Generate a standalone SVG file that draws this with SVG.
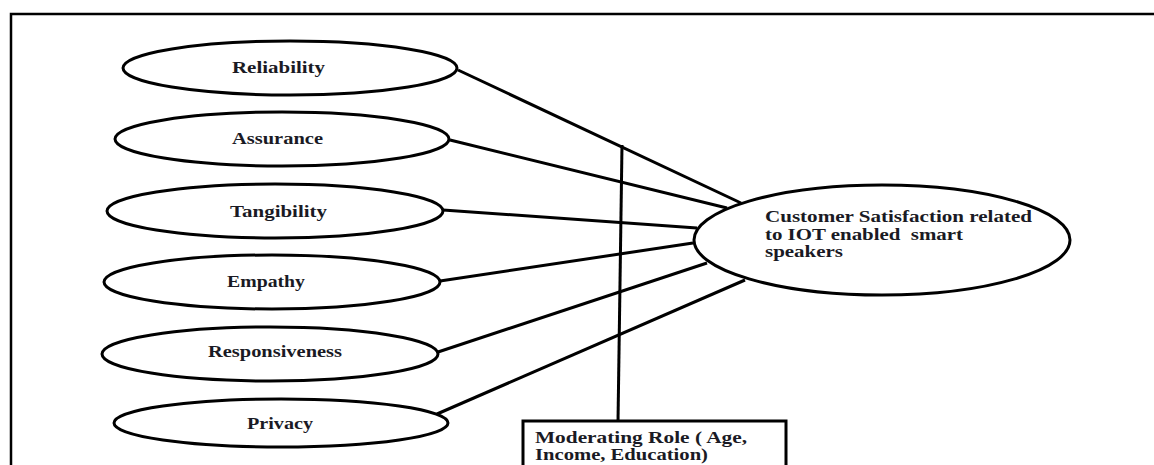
<svg xmlns="http://www.w3.org/2000/svg" width="1154" height="465" viewBox="0 0 1154 465">
<style>
.node{fill:#fff;stroke:#000;stroke-width:3}
.lbl{font-family:"Liberation Serif","Times New Roman",serif;font-weight:bold;font-size:16px;fill:#1a1a24;white-space:pre}
.big{font-size:17px}
.conn line{stroke:#000;stroke-width:3}
</style>
<rect width="1154" height="465" fill="#fff"/>
<g id="frame">
<path d="M11 465 V14 H1154" fill="none" stroke="#000" stroke-width="2.5"/>
</g>
<g class="conn" id="connectors">
<line x1="458" y1="70" x2="741" y2="203"/>
<line x1="450" y1="140" x2="727" y2="208"/>
<line x1="443" y1="210" x2="697" y2="228"/>
<line x1="440" y1="281" x2="693" y2="243"/>
<line x1="438" y1="352" x2="707" y2="263"/>
<line x1="437" y1="414" x2="745" y2="280"/>
<line x1="622" y1="145" x2="618" y2="422"/>
</g>
<g id="reliability">
<ellipse class="node" cx="290" cy="68" rx="167" ry="27"/>
<text class="lbl" x="232" y="73" textLength="93" lengthAdjust="spacingAndGlyphs">Reliability</text>
</g>
<g id="assurance">
<ellipse class="node" cx="282" cy="139" rx="167" ry="27"/>
<text class="lbl" x="232" y="144" textLength="91" lengthAdjust="spacingAndGlyphs">Assurance</text>
</g>
<g id="tangibility">
<ellipse class="node" cx="275" cy="211" rx="168" ry="27"/>
<text class="lbl" x="230" y="217" textLength="97" lengthAdjust="spacingAndGlyphs">Tangibility</text>
</g>
<g id="empathy">
<ellipse class="node" cx="272" cy="282" rx="168" ry="27"/>
<text class="lbl" x="227" y="287" textLength="78" lengthAdjust="spacingAndGlyphs">Empathy</text>
</g>
<g id="responsiveness">
<ellipse class="node" cx="270" cy="354" rx="168" ry="27"/>
<text class="lbl" x="208" y="357" textLength="134" lengthAdjust="spacingAndGlyphs">Responsiveness</text>
</g>
<g id="privacy">
<ellipse class="node" cx="281" cy="423" rx="167" ry="24"/>
<text class="lbl" x="247" y="429" textLength="66" lengthAdjust="spacingAndGlyphs">Privacy</text>
</g>
<g id="satisfaction">
<ellipse class="node" cx="882" cy="240" rx="188" ry="55"/>
<text class="lbl big" x="765" y="222" textLength="267" lengthAdjust="spacingAndGlyphs">Customer Satisfaction related</text>
<text class="lbl big" x="765" y="240" textLength="198" lengthAdjust="spacingAndGlyphs" xml:space="preserve">to IOT enabled  smart</text>
<text class="lbl big" x="765" y="257" textLength="78" lengthAdjust="spacingAndGlyphs">speakers</text>
</g>
<g id="moderating">
<rect class="node" x="523" y="421" width="263" height="60"/>
<text class="lbl big" x="535" y="443" textLength="212" lengthAdjust="spacingAndGlyphs">Moderating Role ( Age,</text>
<text class="lbl big" x="535" y="460" textLength="173" lengthAdjust="spacingAndGlyphs">Income, Education)</text>
</g>
</svg>
